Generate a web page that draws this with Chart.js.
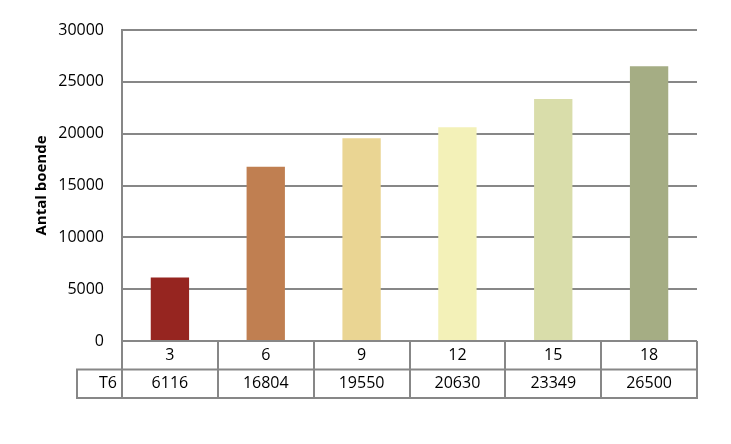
<!DOCTYPE html>
<html>
<head>
<meta charset="utf-8">
<script src="https://cdn.jsdelivr.net/npm/chart.js@4"></script>
<style>
  html, body { margin: 0; padding: 0; background: #fff; }
  #wrap { width: 731px; height: 444px; }
</style>
</head>
<body>
<div id="wrap"><canvas id="chart" width="731" height="444"></canvas></div>
<script>
const categories = ['3', '6', '9', '12', '15', '18'];
const seriesName = 'T6';
const values = [6116, 16804, 19550, 20630, 23349, 26500];
const barColors = ['#962520', '#C07F51', '#EAD593', '#F3F1B8', '#D9DDAA', '#A5AD84'];
const yTicks = [0, 5000, 10000, 15000, 20000, 25000, 30000];

const FONT = '"Open Sans", "Liberation Sans", sans-serif';
const LINE = '#878787';

// draws the data table under the plot, using the x scale for column edges
const tablePlugin = {
  id: 'dataTable',
  afterDraw(chart) {
    const ctx = chart.ctx;
    const x = chart.scales.x;
    const area = chart.chartArea;
    const rowH = 28.5;
    const top = area.bottom;
    const mid = top + rowH;
    const bot = mid + rowH;
    const labelLeft = 77;
    const half = (x.getPixelForValue(1) - x.getPixelForValue(0)) / 2;

    ctx.save();
    ctx.strokeStyle = LINE;
    ctx.lineWidth = 2;
    ctx.beginPath();
    // horizontal lines
    ctx.moveTo(labelLeft, mid); ctx.lineTo(area.right, mid);
    ctx.moveTo(labelLeft, bot); ctx.lineTo(area.right, bot);
    // left edge of the series row
    ctx.moveTo(labelLeft, mid - 1); ctx.lineTo(labelLeft, bot + 1);
    // column edges
    for (let i = 0; i <= categories.length; i++) {
      const px = Math.round(x.getPixelForValue(i) - half);
      ctx.moveTo(px, top); ctx.lineTo(px, bot + 1);
    }
    ctx.stroke();

    ctx.fillStyle = '#000';
    ctx.font = '16px ' + FONT;
    ctx.textBaseline = 'middle';
    ctx.textAlign = 'center';
    categories.forEach((c, i) => {
      const cx = x.getPixelForValue(i);
      ctx.fillText(c, cx, top + rowH / 2);
      ctx.fillText(String(values[i]), cx, mid + rowH / 2);
    });
    ctx.textAlign = 'right';
    ctx.fillText(seriesName, area.left - 5, mid + rowH / 2);
    ctx.restore();
  }
};

new Chart(document.getElementById('chart').getContext('2d'), {
  type: 'bar',
  data: {
    labels: categories,
    datasets: [{
      label: seriesName,
      data: values,
      backgroundColor: barColors,
      borderWidth: 0,
      barPercentage: 0.4,
      categoryPercentage: 1.0
    }]
  },
  options: {
    responsive: false,
    animation: false,
    layout: { padding: { top: 30, right: 34, bottom: 103, left: 0 } },
    plugins: {
      legend: { display: false },
      tooltip: { enabled: false }
    },
    scales: {
      x: {
        display: false,
        offset: true
      },
      y: {
        min: 0,
        max: 30000,
        afterFit(scale) { scale.width = 122; },
        afterBuildTicks(scale) { scale.ticks = yTicks.map(v => ({ value: v })); },
        border: { display: true, color: LINE, width: 2 },
        grid: { color: LINE, lineWidth: 2, drawTicks: false },
        ticks: {
          padding: 18,
          color: '#000',
          font: { family: FONT, size: 16 },
          callback: v => String(v)
        },
        title: {
          display: true,
          text: 'Antal boende',
          color: '#000',
          padding: { top: 33, bottom: 0 },
          font: { family: FONT, size: 15, weight: 'bold' }
        }
      }
    }
  },
  plugins: [tablePlugin]
});
</script>
</body>
</html>
